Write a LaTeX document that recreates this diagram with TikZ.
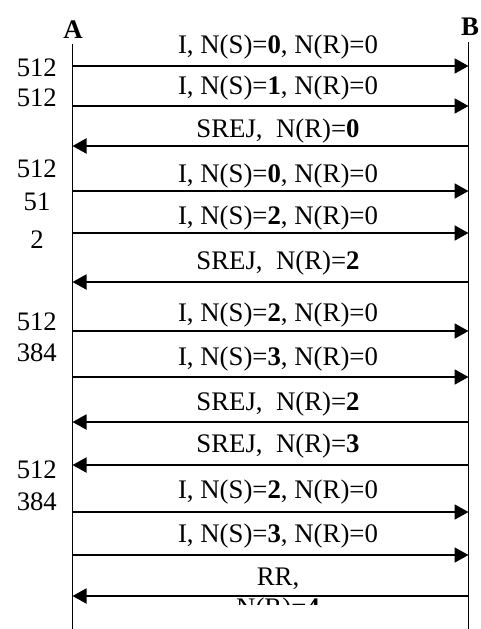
\documentclass[tikz,border=0pt]{standalone}
\usepackage{fontspec}
\setmainfont{Liberation Serif}
\usetikzlibrary{arrows.meta}
\tikzset{
  life/.style={line width=1.6pt},
  msgr/.style={line width=1.9pt,-{Triangle[length=14pt,width=15pt]}},
  lbl/.style={anchor=base,inner sep=0pt,font=\fontsize{26.8}{31}\selectfont},
  num/.style={anchor=base east,inner sep=0pt,font=\fontsize{26.7}{38}\selectfont},
  hdr/.style={anchor=base,inner sep=0pt,font=\fontsize{26.8}{31}\selectfont\bfseries},
}
\begin{document}
\begin{tikzpicture}[x=1pt,y=-1pt]
\useasboundingbox (0,0) rectangle (481,629);
% headers and lifelines
\node[hdr] (A) at (73,38) {A};
\node[hdr] (B) at (470,35) {B};
\coordinate (Atop) at (72.5,44);
\coordinate (Abot) at (72.5,629);
\coordinate (Btop) at (468.5,42);
\coordinate (Bbot) at (468.5,629);
\draw[life] (Atop) -- (Abot);
\draw[life] (Btop) -- (Bbot);
% message end points
\foreach \i/\y in {1/66,2/106,3/146,4/191,5/233,6/282,7/331,8/377,9/422,10/465,11/512,12/555,13/596}{
  \coordinate (a\i) at (72.5,\y);
  \coordinate (b\i) at (468.5,\y);
}
% messages
\draw[msgr] (a1) -- (b1);
\draw[msgr] (a2) -- (b2);
\draw[msgr] (b3) -- (a3);
\draw[msgr] (a4) -- (b4);
\draw[msgr] (a5) -- (b5);
\draw[msgr] (b6) -- (a6);
\draw[msgr] (a7) -- (b7);
\draw[msgr] (a8) -- (b8);
\draw[msgr] (b9) -- (a9);
\draw[msgr] (b10) -- (a10);
\draw[msgr] (a11) -- (b11);
\draw[msgr] (a12) -- (b12);
% labels
\node[lbl] (l1) at (278,53) {I, N(S)=\textbf{0}, N(R)=0};
\node[lbl] (l2) at (278,94) {I, N(S)=\textbf{1}, N(R)=0};
\node[lbl] (l3) at (278,137) {SREJ,\ \ N(R)=\textbf{0}};
\node[lbl] (l4) at (278,182) {I, N(S)=\textbf{0}, N(R)=0};
\node[lbl] (l5) at (278,224) {I, N(S)=\textbf{2}, N(R)=0};
\node[lbl] (l6) at (278,269) {SREJ,\ \ N(R)=\textbf{2}};
\node[lbl] (l7) at (278,321) {I, N(S)=\textbf{2}, N(R)=0};
\node[lbl] (l8) at (278,365) {I, N(S)=\textbf{3}, N(R)=0};
\node[lbl] (l9) at (278,410) {SREJ,\ \ N(R)=\textbf{2}};
\node[lbl] (l10) at (278,452) {SREJ,\ \ N(R)=\textbf{3}};
\node[lbl] (l11) at (278,498) {I, N(S)=\textbf{2}, N(R)=0};
\node[lbl] (l12) at (278,542) {I, N(S)=\textbf{3}, N(R)=0};
\begin{scope}
  \clip (0,0) rectangle (481,604);
  \node[lbl,anchor=north,align=center] (l13) at (278,567.3) {RR,\\N(R)=\textbf{4}};
\end{scope}
\draw[msgr] (b13) -- (a13);
% left-side numbers
\node[num] (n1) at (57,76) {512};
\node[num] (n2) at (57,106) {512};
\node[num] (n3) at (57,177) {512};
\node[anchor=north,inner sep=0pt,align=center,font=\fontsize{26.7}{38}\selectfont] (n4) at (37,193) {51\\2};
\node[num] (n5) at (57,330) {512};
\node[num] (n6) at (57,361) {384};
\node[num] (n7) at (57,478) {512};
\node[num] (n8) at (57,510) {384};
\end{tikzpicture}
\end{document}
